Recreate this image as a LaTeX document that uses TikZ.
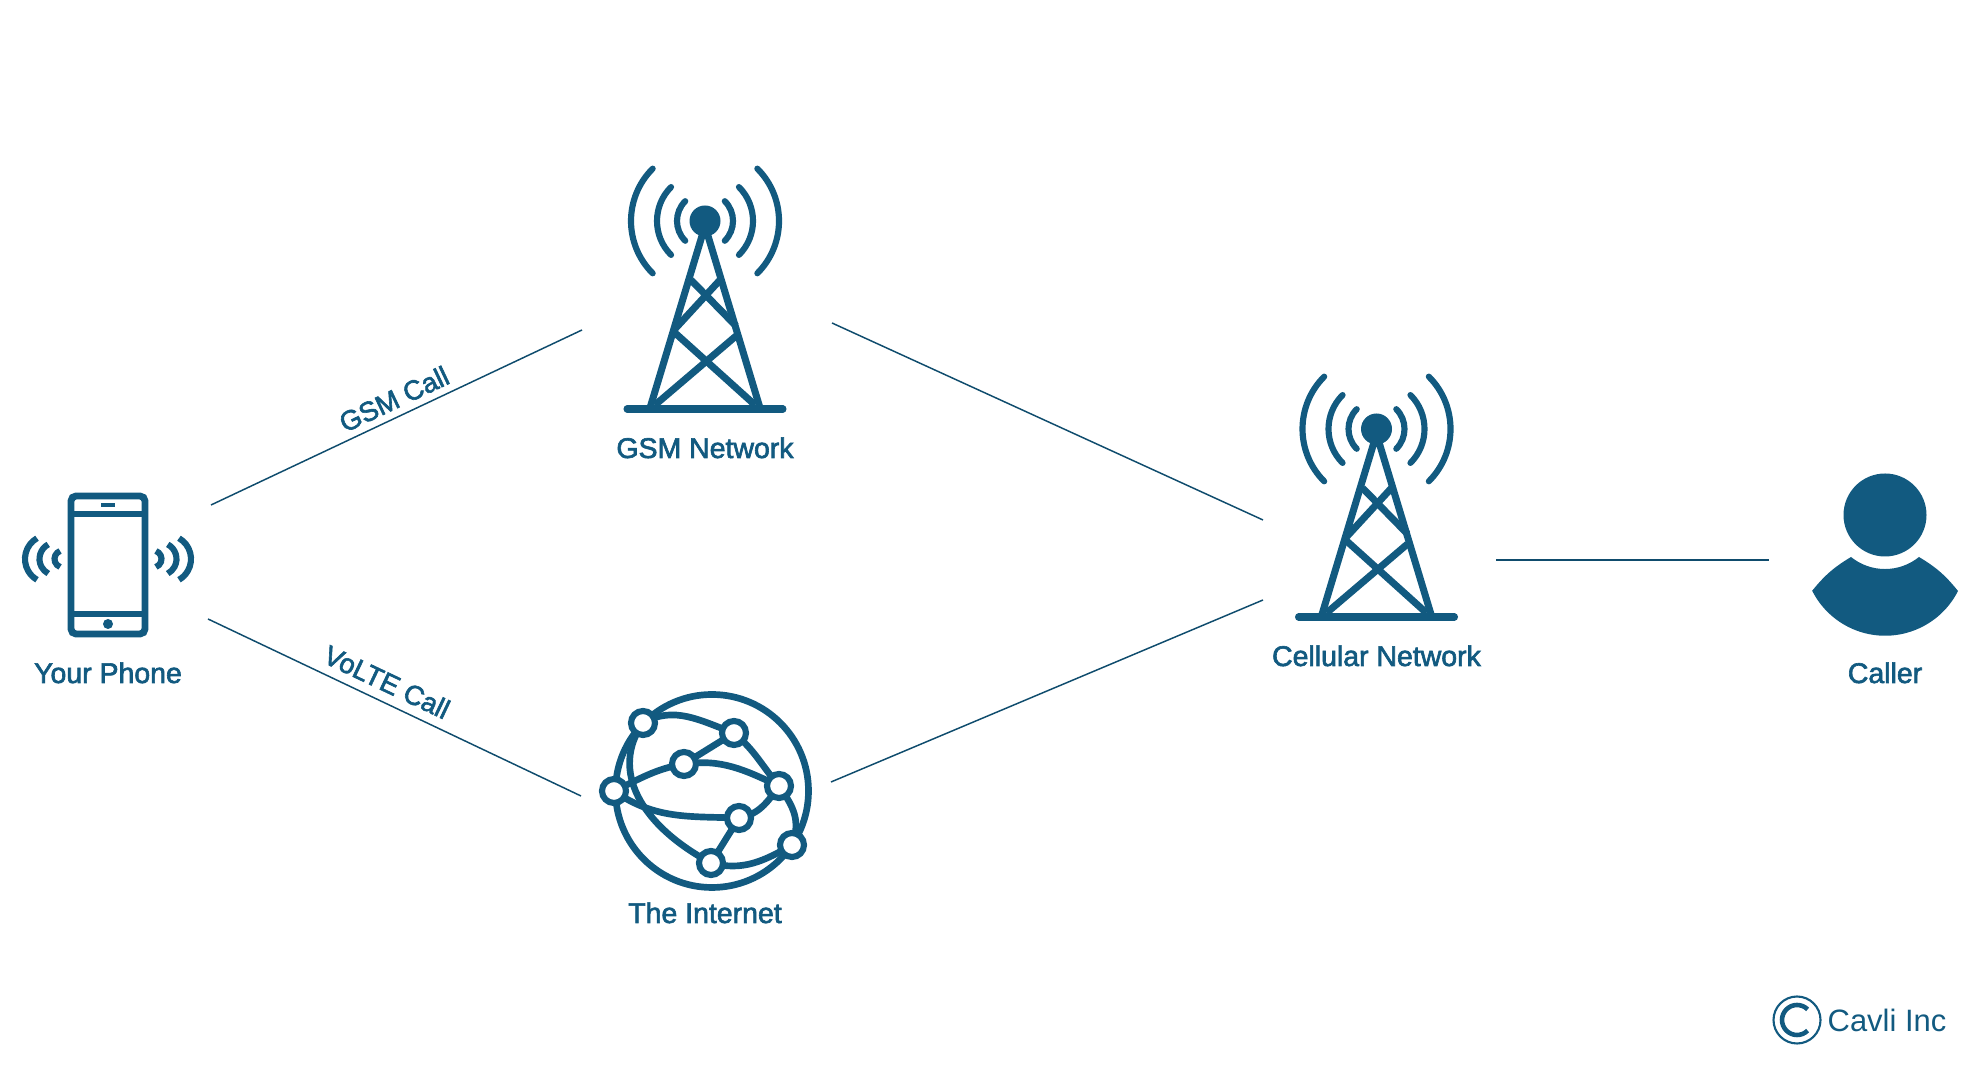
\documentclass[tikz,border=0pt]{standalone}
\usepackage{fontspec}
\setmainfont{Liberation Sans}
\newfontfamily\labelfont[FakeBold=2.2]{Liberation Sans}
\definecolor{cavliblue}{RGB}{18,90,128}
\tikzset{
    iconline/.style={draw=cavliblue, line width=2pt},
    phoneline/.style={draw=cavliblue, line width=1.95pt},
    waveline/.style={draw=cavliblue, line width=1.75pt},
    globeline/.style={draw=cavliblue, line width=1.9pt},
    link/.style={draw=cavliblue!85!black, line width=0.42pt},
    caption/.style={anchor=base, text=cavliblue, font=\labelfont\fontsize{8.1}{10}\selectfont, inner sep=0pt},
    calllabel/.style={anchor=center, text=cavliblue, font=\labelfont\fontsize{7.8}{10}\selectfont, inner sep=0pt},
    hub/.style={circle, draw=cavliblue, fill=white, line width=1.75pt, minimum size=0.24cm, inner sep=0pt},
    tower/.pic={
        % Onde
        \foreach \r in {0.28,0.48,0.74}{
            \draw[waveline, line cap=round] (45:\r) arc[start angle=45, end angle=-45, radius=\r];
            \draw[waveline, line cap=round] (135:\r) arc[start angle=135, end angle=225, radius=\r];
        }
        \fill[cavliblue] (0,0) circle (0.155);
        % Traliccio
        \draw[iconline, line join=round] (-0.55,-1.87) -- (0,-0.05) -- (0.55,-1.87);
        \draw[iconline] (-0.50,-1.84) -- (0.31,-1.15);
        \draw[iconline] (0.50,-1.84) -- (-0.31,-1.11);
        \draw[iconline] (-0.31,-1.09) -- (0.15,-0.59);
        \draw[iconline] (-0.14,-0.59) -- (0.31,-1.05);
        \draw[iconline, line cap=round] (-0.78,-1.88) -- (0.78,-1.88);
    }
}
\begin{document}
\begin{tikzpicture}
    \useasboundingbox (0,0) rectangle (19.8,10.8);

    % Telefono
    \draw[phoneline, rounded corners=0.05cm] (0.71,4.46) rectangle (1.45,5.84);
    \draw[phoneline] (0.71,5.66) -- (1.45,5.66);
    \draw[phoneline] (0.71,4.66) -- (1.45,4.66);
    \draw[cavliblue, line width=1.2pt] (1.01,5.75) -- (1.15,5.75);
    \fill[cavliblue] (1.08,4.56) circle (0.05);
    \foreach \s in {1,-1}{
        \begin{scope}[shift={(1.08,5.21)}, xscale=\s]
            \draw[waveline] ([shift={(70:0.085)}]0.45,0) arc[start angle=70, end angle=-70, radius=0.085];
            \draw[waveline] ([shift={(62:0.165)}]0.52,0) arc[start angle=62, end angle=-62, radius=0.165];
            \draw[waveline] ([shift={(60:0.24)}]0.59,0) arc[start angle=60, end angle=-60, radius=0.24];
        \end{scope}
    }
    \node[caption] (phone) at (1.08,3.97) {Your Phone};

    % Torri
    \pic at (7.05,8.59) {tower};
    \node[caption] (gsm) at (7.05,6.22) {GSM Network};
    \pic at (13.765,6.51) {tower};
    \node[caption] (cellular) at (13.765,4.14) {Cellular Network};

    % Internet
    \coordinate (hubA) at (6.43,3.57);
    \coordinate (hubB) at (7.34,3.47);
    \coordinate (hubC) at (6.84,3.16);
    \coordinate (hubD) at (6.14,2.89);
    \coordinate (hubE) at (7.79,2.94);
    \coordinate (hubF) at (7.39,2.62);
    \coordinate (hubG) at (7.92,2.35);
    \coordinate (hubH) at (7.11,2.17);
    \draw[globeline] (7.12,2.89) circle (0.965);
    \draw[globeline] (hubA) to[out=30, in=160] (hubB) to[out=-40, in=130] (hubE) to[out=-55, in=70, looseness=1.1] (hubG);
    \draw[globeline] (hubA) .. controls (6.1,3.1) and (6.4,2.55) .. (hubH);
    \draw[globeline] (hubD) to[out=25, in=190] (hubC) to[out=8, in=155] (hubE);
    \draw[globeline] (hubD) to[out=-35, in=178] (hubF) to[out=10, in=-125] (hubE);
    \draw[globeline] (hubH) to[out=-15, in=-150] (hubG);
    \draw[globeline] (hubC) -- (hubB);
    \draw[globeline] (hubF) -- (hubH);
    \foreach \h in {A,B,C,D,E,F,G,H}
        \node[hub] (dot\h) at (hub\h) {};
    \node[caption] (internet) at (7.05,1.57) {The Internet};

    % Persona
    \fill[cavliblue] (18.85,5.65) circle (0.415);
    \fill[cavliblue] (18.12,4.89) to[bend left=10] (18.51,5.23)
        arc[start angle=231, end angle=309, radius=0.54]
        to[bend left=10] (19.58,4.89)
        arc[start angle=-26.9, end angle=-153.1, radius=0.817] -- cycle;
    \node[caption] (caller) at (18.85,3.97) {Caller};

    % Collegamenti
    \coordinate (phoneup) at (2.11,5.75);
    \coordinate (gsmin) at (5.82,7.50);
    \coordinate (gsmout) at (8.32,7.57);
    \coordinate (cellup) at (12.63,5.60);
    \coordinate (phonedown) at (2.08,4.61);
    \coordinate (netin) at (5.81,2.84);
    \coordinate (netout) at (8.31,2.98);
    \coordinate (celldown) at (12.63,4.80);
    \coordinate (cellout) at (14.96,5.20);
    \coordinate (callerin) at (17.69,5.20);
    \draw[link] (phoneup) -- (gsmin);
    \draw[link] (gsmout) -- (cellup);
    \draw[link] (phonedown) -- (netin);
    \draw[link] (netout) -- (celldown);
    \draw[link] (cellout) -- (callerin);
    \node[calllabel, rotate=25.3] (gsmcall) at (3.94,6.81) {GSM Call};
    \node[calllabel, rotate=-25.3] (voltecall) at (3.87,3.98) {VoLTE Call};

    % Marchio
    \draw[cavliblue, line width=0.6pt] (17.97,0.60) circle (0.235);
    \draw[cavliblue, line width=1.3pt] ([shift={(45:0.15)}]17.97,0.60) arc[start angle=45, end angle=315, radius=0.15];
    \node[anchor=base, text=cavliblue, inner sep=0pt, font=\fontsize{8.8}{10}\selectfont] (brand) at (18.87,0.48) {Cavli Inc};
\end{tikzpicture}
\end{document}
